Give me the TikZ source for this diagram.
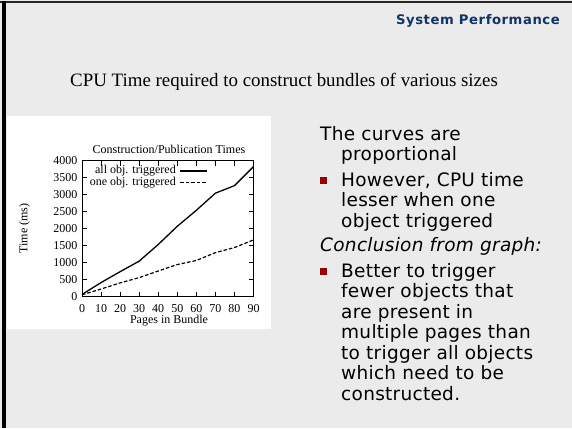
\documentclass[tikz,border=0pt]{standalone}
\usepackage{fontspec}
\setmainfont{Liberation Serif}
\newfontfamily\slidesans{DejaVu Sans}[LetterSpace=1.5]
\newfontfamily\headsans{DejaVu Sans}[LetterSpace=4.2]
\definecolor{slidebg}{RGB}{235,235,235}
\definecolor{headblue}{RGB}{16,52,104}
\definecolor{bulletred}{RGB}{150,0,0}
\begin{document}
\begin{tikzpicture}[x=1pt,y=-1pt,
  plotfont/.style={font=\fontsize{12}{14}\selectfont, inner sep=0pt},
  bodyline/.style={anchor=base west, inner sep=0pt, font=\slidesans\fontsize{18.5}{20}\selectfont},
  bulletsq/.style={fill=bulletred, minimum size=6.5pt, inner sep=0pt, draw=none},
  tickmark/.style={line width=0.8pt},
  curveall/.style={line width=1.3pt, line join=round},
  curveone/.style={line width=1.2pt, line join=round, dash pattern=on 3.5pt off 2pt},
]
\useasboundingbox (0,0) rectangle (572,428);
% slide background and its frame edges
\fill[slidebg] (0,0) rectangle (572,428);
\fill[black!85] (0,1.5) rectangle (572,3.5);
\fill[black] (2,1.5) rectangle (6,428);

% header and heading
\node[anchor=base east, inner sep=0pt, text=headblue,
      font=\headsans\bfseries\fontsize{13.2}{15}\selectfont] (head) at (560,25) {System Performance};
\node[anchor=base west, inner sep=0pt, font=\fontsize{18.9}{22}\selectfont] (sub) at (70,86)
  {CPU Time required to construct bundles of various sizes};

% chart panel
\fill[white] (7,116) rectangle (271,329);
\begin{scope}[shift={(82,296.5)}, x=1.90556pt, y=0.034pt]
  \draw[line width=0.9pt] (0,0) rectangle (90,4000);
  \foreach \v in {500,1000,...,3500} {
    \draw[tickmark] (0,\v) -- ++(5pt,0);
    \draw[tickmark] (90,\v) -- ++(-5pt,0);
  }
  \foreach \d in {10,20,...,80} {
    \draw[tickmark] (\d,0) -- ++(0,5pt);
    \draw[tickmark] (\d,4000) -- ++(0,-5pt);
  }
  \foreach \v in {0,500,...,4000}
    \node[plotfont, anchor=east] (yt\v) at ([xshift=-4.5pt]0,\v) {\v};
  \foreach \d in {0,10,...,90}
    \node[plotfont] (xt\d) at ([yshift=-12pt]\d,0) {\d};
  % all objects triggered
  \draw[curveall] (0,60) -- (10,410) -- (20,730) -- (30,1040) -- (40,1530) -- (50,2065)
    -- (60,2535) -- (70,3040) -- (80,3260) -- (90,3820);
  % one object triggered
  \draw[curveone] (0,50) -- (10,220) -- (20,400) -- (30,556) -- (40,750) -- (50,940)
    -- (60,1060) -- (70,1290) -- (80,1440) -- (90,1665);
\end{scope}
\node[plotfont] (ptitle) at (169,149) {Construction/Publication Times};
\node[plotfont] (xlab) at (169,321) {Pages in Bundle};
\node[plotfont, rotate=90] (ylab) at (24.5,228.5) {Time (ms)};
\node[plotfont, anchor=east] (leg1) at (176,171) {all obj. triggered};
\node[plotfont, anchor=east] (leg2) at (176,182.5) {one obj. triggered};
\draw[curveall] ([xshift=4pt]leg1.east) -- ++(27,0);
\draw[curveone] ([xshift=4pt]leg2.east) -- ++(27,0);

% right-hand text
\node[bodyline] (l1) at (320,140) {The curves are};
\node[bodyline] (l2) at (341,160.5) {proportional};
\node[bulletsq] (b1) at (323.5,180.5) {};
\node[bodyline] (l3) at (341,186) {However, CPU time};
\node[bodyline] (l4) at (341,206.5) {lesser when one};
\node[bodyline] (l5) at (341,227) {object triggered};
\node[bodyline, font=\slidesans\itshape\fontsize{18.5}{20}\selectfont] (l6) at (320,251.5) {Conclusion from graph:};
\node[bulletsq] (b2) at (323.5,271.5) {};
\node[bodyline] (l7) at (341,277) {Better to trigger};
\node[bodyline] (l8) at (341,297.5) {fewer objects that};
\node[bodyline] (l9) at (341,318) {are present in};
\node[bodyline] (l10) at (341,338.5) {multiple pages than};
\node[bodyline] (l11) at (341,359) {to trigger all objects};
\node[bodyline] (l12) at (341,379.5) {which need to be};
\node[bodyline] (l13) at (341,400) {constructed.};
\end{tikzpicture}
\end{document}
